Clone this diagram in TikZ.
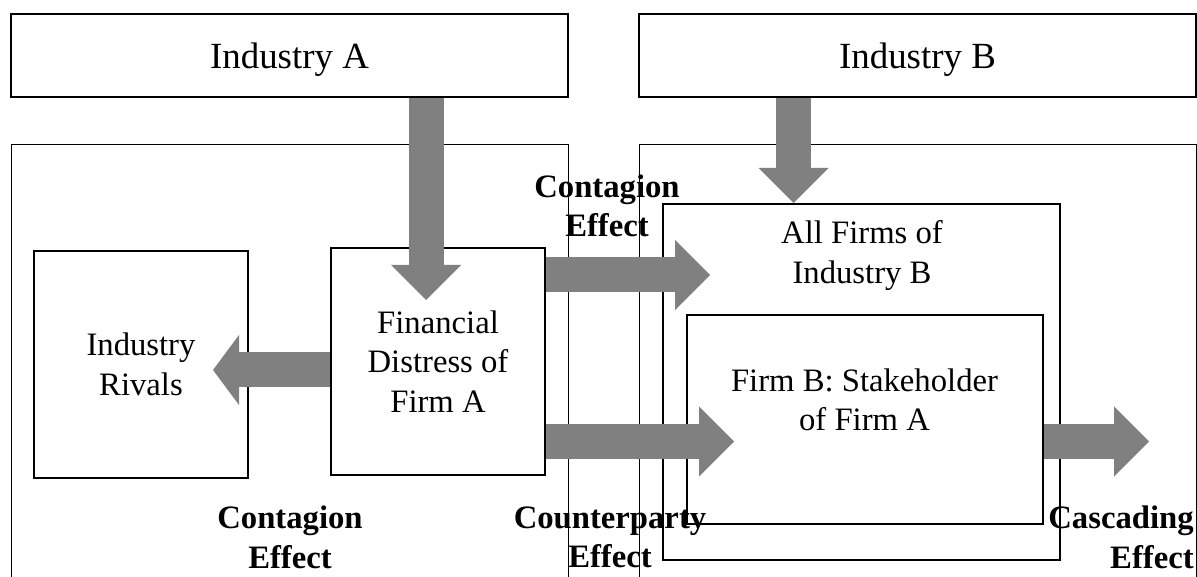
\documentclass[tikz,border=0pt]{standalone}
\usepackage{fontspec}
\setmainfont{Liberation Serif}
\usetikzlibrary{arrows.meta}
\tikzset{
  box/.style={draw, line width=0.7pt, inner sep=0pt},
  boxtext/.style={align=center, inner sep=0pt, font=\fontsize{18.6}{22.4}\selectfont},
  toptext/.style={anchor=base, inner sep=0pt, font=\fontsize{21}{25}\selectfont},
  effect/.style={align=center, inner sep=0pt, font=\fontsize{18.6}{22.4}\selectfont\bfseries},
  fatarrow/.style={draw=gray, line width=0.7cm, -{Triangle[length=0.7cm, width=1.4cm, line width=0pt]}},
}

\begin{document}
\begin{tikzpicture}
 \useasboundingbox (0,0) rectangle (23.94,11.52);
 \clip (0,0) rectangle (23.94,11.52);

 % the two industries
 \node[box, minimum width=11.14cm, minimum height=1.66cm] (indA) at (5.79,10.41) {};
 \node[box, minimum width=11.14cm, minimum height=1.66cm] (indB) at (18.35,10.41) {};
 \node[toptext] (indAtext) at (5.79,10.14) {Industry A};
 \node[toptext] (indBtext) at (18.35,10.14) {Industry B};

 % big frames, running off the bottom
 \node[box, anchor=north west, minimum width=11.14cm, minimum height=9.6cm] (frameA) at (0.22,8.64) {};
 \node[box, anchor=north west, minimum width=11.14cm, minimum height=9.6cm] (frameB) at (12.78,8.64) {};

 % firms
 \node[box, boxtext, minimum width=4.28cm, minimum height=4.54cm] (rivals) at (2.82,4.23) {Industry\\Rivals};
 \node[box, boxtext, minimum width=4.28cm, minimum height=4.54cm] (distA) at (8.76,4.29) {Financial\\Distress of\\Firm A};
 \node[box, minimum width=7.94cm, minimum height=7.12cm] (allB) at (17.23,3.88) {};
 \node[box, minimum width=7.12cm, minimum height=4.18cm] (firmB) at (17.30,3.13) {};
 \node[boxtext] (allBtext) at (17.24,6.41) {All Firms of\\Industry B};
 \node[boxtext] (firmBtext) at (17.29,3.52) {Firm B: Stakeholder\\of Firm A};

 % effects
 \node[effect] (contTop) at (12.14,7.40) {Contagion\\Effect};
 \node[effect] (contBot) at (5.80,0.77) {Contagion\\Effect};
 \node[effect] (counter) at (12.20,0.77) {Counterparty\\Effect};
 \node[effect, align=right, anchor=east] (cascade) at (23.88,0.77) {Cascading\\Effect};

 % arrows
 \coordinate (tipA) at (8.52,5.52);
 \coordinate (tipB) at (15.87,7.46);
 \coordinate (tipCont) at (14.20,6.02);
 \coordinate (tipCount) at (14.68,2.69);
 \coordinate (tipCasc) at (22.98,2.69);
 \coordinate (tipRiv) at (4.26,4.12);
 \draw[fatarrow] (indA.south -| tipA) -- (tipA);
 \draw[fatarrow] (indB.south -| tipB) -- (tipB);
 \draw[fatarrow] (distA.east |- tipCont) -- (tipCont);
 \draw[fatarrow] (distA.east |- tipCount) -- (tipCount);
 \draw[fatarrow] (firmB.east |- tipCasc) -- (tipCasc);
 \draw[fatarrow, -{Triangle[length=0.52cm, width=1.4cm, line width=0pt]}] (distA.west |- tipRiv) -- (tipRiv);

\end{tikzpicture}
\end{document}
